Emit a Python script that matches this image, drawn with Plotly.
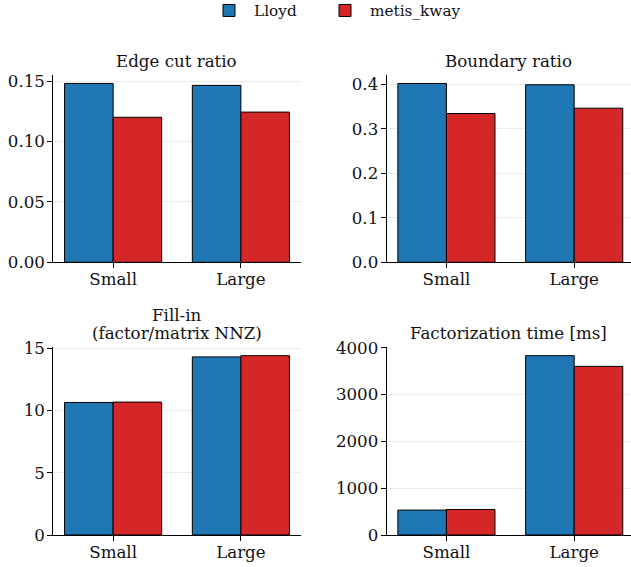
import plotly.graph_objects as go

categories = ["Small", "Large"]
series_names = ["Lloyd", "metis_kway"]
colors = ["#1f77b4", "#d62728"]

edge_cut_lloyd = [0.148, 0.1464]
edge_cut_metis = [0.120, 0.1243]
boundary_lloyd = [0.4015, 0.3985]
boundary_metis = [0.334, 0.346]
fillin_lloyd = [10.65, 14.31]
fillin_metis = [10.68, 14.41]
facttime_lloyd = [532, 3829]
facttime_metis = [545, 3600]

titles = [["Edge cut ratio"], ["Boundary ratio"], ["Fill-in", "(factor/matrix NNZ)"], ["Factorization time [ms]"]]
panels = [
    (edge_cut_lloyd, edge_cut_metis, 0.05, ".2f"),
    (boundary_lloyd, boundary_metis, 0.1, ".1f"),
    (fillin_lloyd, fillin_metis, 5, "d"),
    (facttime_lloyd, facttime_metis, 1000, "d"),
]

W, H = 631, 567
FONT = "DejaVu Serif"
FS = 16.67
TXT = "#111111"

xdoms_px = [(53.3, 300.7), (386.6, 631.0)]
ydoms_px = [(74.5, 262.3), (346.7, 535.0)]
legend_x_px = [204, 320]
legend_names = ["legend", "legend2"]


def px_x(v):
    return v / W


def px_y(v):
    return 1 - v / H


fig = go.Figure()
for i, (lv, mv, dtick, fmt) in enumerate(panels):
    r, c = divmod(i, 2)
    ax = "" if i == 0 else str(i + 1)
    xd = [px_x(xdoms_px[c][0]), px_x(xdoms_px[c][1])]
    yd = [px_y(ydoms_px[r][1]), px_y(ydoms_px[r][0])]
    for s, vals in enumerate([lv, mv]):
        fig.add_trace(go.Bar(
            x=categories, y=vals, name=series_names[s],
            marker=dict(color=colors[s], line=dict(color="black", width=1)),
            xaxis="x" + ax, yaxis="y" + ax,
            showlegend=(i == 0), offsetgroup=str(s), legend=legend_names[s],
        ))
    ymax = max(max(lv), max(mv)) * 1.05
    span_px = xdoms_px[c][1] - xdoms_px[c][0]
    unit_px = 247.4 / 1.936
    xr = [-0.468, -0.468 + span_px / unit_px]
    fig.layout["xaxis" + ax] = dict(
        domain=xd, anchor="y" + ax, type="category", range=xr,
        showline=True, linecolor="black", linewidth=1,
        ticks="outside", ticklen=5, tickwidth=1, tickcolor="black",
        ticklabelstandoff=-3,
        showgrid=False, zeroline=False, automargin=False,
        tickfont=dict(family=FONT, size=FS, color=TXT),
    )
    fig.layout["yaxis" + ax] = dict(
        domain=yd, anchor="x" + ax, range=[0, ymax],
        dtick=dtick, tick0=0, tickformat=fmt,
        showline=True, linecolor="black", linewidth=1,
        ticks="outside", ticklen=5, tickwidth=1, tickcolor="black",
        ticklabelstandoff=-1,
        showgrid=True, gridcolor="#ebebeb", gridwidth=1, zeroline=False,
        automargin=False,
        tickfont=dict(family=FONT, size=FS, color=TXT),
    )
    lines = titles[i]
    for j, line in enumerate(lines):
        k = len(lines) - 1 - j
        fig.add_annotation(
            text=line, x=(xd[0] + xd[1]) / 2, y=yd[1], xref="paper", yref="paper",
            xanchor="center", yanchor="bottom", yshift=2.5 + 17.8 * k, showarrow=False,
            borderpad=0,
            font=dict(family=FONT, size=FS, color=TXT),
        )

legend_style = dict(orientation="h", xanchor="left", y=1 + 6 / H, yanchor="top",
                    font=dict(family=FONT, size=15.3, color=TXT), itemwidth=40,
                    bgcolor="rgba(0,0,0,0)")

fig.update_layout(
    width=W, height=H,
    margin=dict(l=0, r=0, t=0, b=0, pad=0, autoexpand=False),
    plot_bgcolor="white", paper_bgcolor="white",
    barmode="group", bargap=0.24, bargroupgap=0,
    font=dict(family=FONT, color=TXT),
    legend=dict(x=px_x(legend_x_px[0]), **legend_style),
    legend2=dict(x=px_x(legend_x_px[1]), **legend_style),
)

fig.write_html(
    "out.html",
    config={"displayModeBar": False},
    post_script="document.body.style.margin='0';document.body.style.padding='0';document.body.style.overflow='hidden';",
)
